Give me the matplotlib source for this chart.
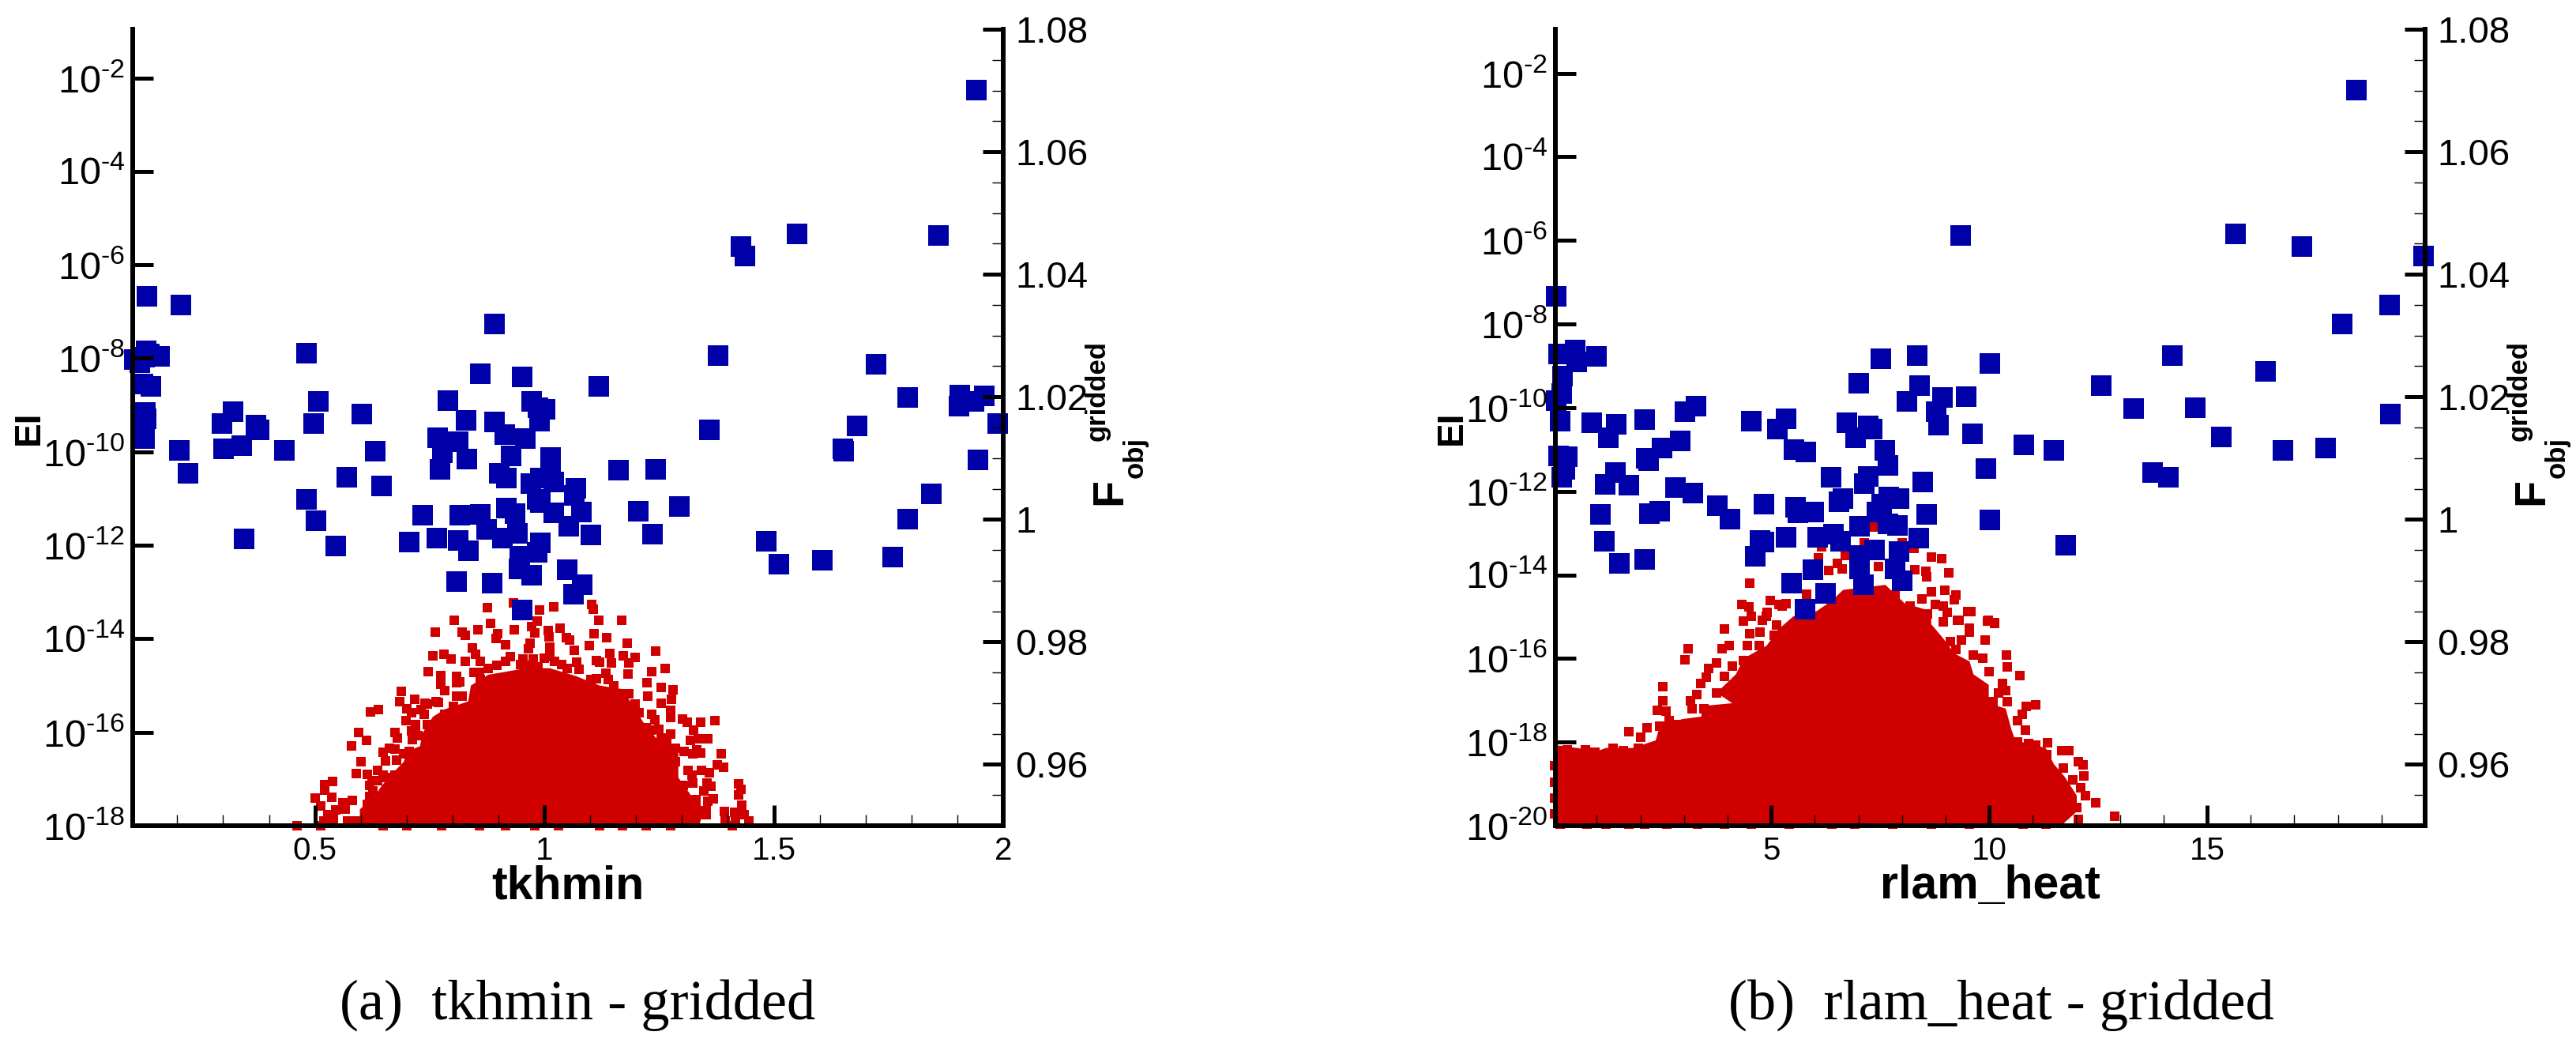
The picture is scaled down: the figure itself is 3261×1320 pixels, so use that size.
import matplotlib
matplotlib.use("Agg")
import matplotlib.pyplot as plt
import numpy as np

plt.rcParams['font.family'] = ['Liberation Sans', 'DejaVu Sans']
plt.rcParams['mathtext.fontset'] = 'custom'
plt.rcParams['mathtext.rm'] = 'Liberation Sans'
plt.rcParams['mathtext.it'] = 'Liberation Sans'
plt.rcParams['mathtext.bf'] = 'Liberation Sans:bold'

BLUE = '#0000A8'
RED = '#D00000'

# ---------- panel (a): tkhmin. Values are (x, log10 EI)
a_blue_x = [.134,.208,.891,1.941,1.429,1.437,1.551,1.859,1.723,1.791,1.905,1.959,1.904,1.936,1.988,1.682,1.651,1.653,1.945,1.843,1.792,1.511,1.606,1.759,
 .133,.161,.139,.106,.129,.119,.142,.126,.130,.132,.129,.129,.321,.298,.371,.379,.301,.340,.204,.223,.434,.498,.508,.481,.603,.632,.570,.646,.481,.503,.345,.545,.705,.734,.765,.813,.835,.815,.861,.875,.918,.937,.908,.808,.887,.768,.813,.777,.773,.832,.789,.861,.830,
 .951,.973,1.002,.986,.990,1.118,1.379,1.360,.891,.913,.958,.927,.901,.918,1.014,1.013,.992,.971,1.021,1.068,1.162,1.242,.985,.992,1.066,.942,1.020,1.080,1.054,1.102,1.204,1.295,1.236,.992,.947,.985,.944,.973,1.049,1.083,1.064,.952,1.484]
a_blue_log = [-6.67,-6.86,-7.26,-2.256,-5.61,-5.82,-5.34,-5.38,-8.12,-8.84,-8.78,-8.81,-9.03,-8.93,-9.40,-9.44,-9.94,-9.98,-10.18,-10.90,-11.44,-12.41,-12.32,-12.26,
 -7.835,-7.954,-7.903,-8.02,-7.976,-8.095,-8.597,-8.546,-9.155,-9.29,-9.713,-9.47,-9.138,-9.392,-9.426,-9.527,-9.928,-9.866,-9.962,-10.458,-9.967,-9.392,-8.918,-7.897,-9.189,-9.984,-10.542,-10.729,-11.016,-11.473,-11.862,-12.015,-11.930,-11.355,-11.845,-11.896,-12.116,-11.355,-11.338,-11.659,-11.202,-11.321,-11.845,-12.776,-12.81,-9.696,-9.781,-10.018,-10.373,-10.153,-8.912,-8.326,-9.324,
 -8.394,-8.918,-9.087,-9.054,-9.341,-8.597,-7.937,-9.527,-9.358,-9.629,-9.713,-10.086,-10.458,-10.56,-10.119,-10.306,-10.56,-10.678,-10.644,-10.779,-10.390,-10.373,-11.016,-11.084,-10.937,-11.744,-11.304,-11.287,-11.592,-11.778,-11.270,-11.169,-11.761,-11.947,-12.235,-12.150,-12.505,-12.641,-12.522,-12.844,-13.047,-13.385,-11.913]

a_red_x = [.876,.932,.990,1.021,1.104,1.106,.803,.883,.985,1.119,1.169,.762,.855,.821,.828,.934,1.035,.973,.979,1.008,1.109,1.135,.899,.894,.916,.969,1.048,1.055,1.010,1.181,1.098,.843,.965,1.012,1.065,1.242,.757,.781,.850,1.142,1.172,1.198,.797,.827,.860,.926,.953,.976,1.000,1.114,1.121,1.147,1.184,1.071,1.023,.747,.775,.808,.816,.860,1.234,1.263,1.182,1.134,.774,1.223,1.254,1.281,.689,.717,.684,1.225,1.277,.740,.770,.700,.639,.621,.710,1.276,1.234,1.254,.698,1.276,1.241,1.301,1.312,1.340,1.372,.596,.674,.680,.710,.612,.580,.712,1.249,1.276,1.325,1.318,1.356,1.335,1.386,.674,.648,.654,.678,.600,1.332,1.340,1.377,1.391,1.314,1.342,1.359,1.322,.590,.614,.637,.648,.538,.522,.522,1.354,1.363,1.423,1.428,1.423,.620,.627,.536,1.347,1.369,.620,1.330,.582,.561,1.430,.512,.566,.545,.614,1.392,1.414,1.353,1.435,.529,1.353,.541,.571,1.394,.519,.592,1.416,1.445,1.324,
 .513,.649,.700,.776,.859,.916,.980,1.031,1.120,1.171,1.222,1.276,1.410,.461,.501,
 .878,.859,.846,.808,.783,.808,.821,.764,.745,.732,.738,.745,.783,.783,.802,.719,.719,.725,.706,.662,.694,.655,.636,.624,.674,
 1.139,1.152,1.165,1.184,1.197,1.206,1.222,1.232,1.254,1.267,1.286,1.305,1.324,1.286,1.302,1.324,1.305,1.330,1.356,
 .916,.897,.948,.967,.986,1.012,1.037,1.050,1.076,1.101,1.114]
a_red_log = [-13.33,-13.24,-13.38,-13.31,-13.27,-13.37,-13.60,-13.67,-13.62,-13.60,-13.60,-13.86,-13.80,-13.85,-13.92,-13.80,-13.77,-13.74,-13.88,-13.83,-13.89,-13.98,-13.89,-13.99,-14.13,-14.10,-13.98,-14.02,-13.96,-14.09,-14.15,-14.19,-14.21,-14.18,-14.24,-14.26,-14.37,-14.33,-14.33,-14.32,-14.37,-14.40,-14.44,-14.49,-14.48,-14.38,-14.43,-14.43,-14.41,-14.46,-14.50,-14.51,-14.52,-14.50,-14.49,-14.70,-14.78,-14.81,-14.92,-14.88,-14.70,-14.64,-14.76,-14.74,-14.98,-14.94,-15.05,-15.10,-15.12,-15.29,-15.35,-15.23,-15.29,-15.38,-15.36,-15.49,-15.51,-15.57,-15.58,-15.54,-15.62,-15.38,-15.76,-15.69,-15.74,-15.71,-15.79,-15.78,-15.76,-16.01,-16.01,-16.13,-15.97,-16.17,-16.29,-16.15,-15.94,-16.04,-15.96,-16.18,-16.14,-16.14,-16.46,-16.36,-16.43,-16.62,-16.60,-16.63,-16.38,-16.45,-16.69,-16.75,-16.82,-16.82,-16.87,-16.92,-16.89,-16.90,-16.82,-16.92,-17.06,-17.12,-17.24,-17.09,-17.16,-17.11,-17.23,-17.34,-17.14,-17.26,-17.39,-17.25,-17.43,-17.38,-17.44,-17.46,-17.51,-17.56,-17.58,-17.65,-17.66,-17.55,-17.70,-17.72,-17.68,-17.76,-17.76,-17.76,-17.85,-17.90,-17.90,-17.90,-17.90,-17.90,-17.90,-17.90,
 -18,-18,-18,-18,-18,-18,-18,-18,-18,-18,-18,-18,-18,-18,-17.41,
 -14.63,-14.72,-14.72,-14.94,-15.11,-15.22,-15.22,-15.34,-15.39,-15.51,-15.62,-15.84,-15.79,-15.62,-15.45,-15.84,-16.01,-16.07,-16.41,-16.35,-16.46,-16.97,-17.03,-17.03,-16.92,
 -14.88,-15.0,-15.17,-15.17,-15.39,-15.59,-15.90,-15.96,-16.13,-16.24,-16.35,-16.41,-16.46,-16.63,-17.14,-17.08,-17.37,-17.54,-17.48,
 -14.49,-14.57,-14.55,-14.57,-14.60,-14.38,-14.55,-14.63,-14.66,-14.88,-14.86]

# outline of the solid red mass, where single marks cannot be told apart
a_core_x = [.598,.598,.630,.646,.671,.694,.700,.729,.735,.757,.783,.834,.840,.878,.961,1.012,1.069,1.120,1.171,1.197,1.216,1.244,1.292,1.292,1.321,1.349,1.337]
a_core_log = [-18.0,-17.65,-17.37,-17.14,-16.86,-16.63,-16.41,-16.30,-16.01,-15.67,-15.51,-15.34,-15.0,-14.77,-14.63,-14.63,-14.80,-15.0,-15.08,-15.50,-15.79,-16.13,-16.41,-16.97,-17.37,-17.65,-18.0]

# ---------- panel (b): rlam_heat
b_blue_x = [.06,18.43,15.66,17.18,19.96,19.18,18.10,9.34,14.20,16.34,14.73,19.20,15.32,16.73,17.71,13.74,14.12,
 10.02,9.48,9.61,10.80,11.49,9.93,10.01,11.76,12.57,13.32,
 .51,.99,.54,.13,.21,.19,.07,.16,.13,.32,.27,.19,.89,1.44,1.27,2.09,3.03,3.27,2.92,2.49,2.14,2.18,1.42,1.20,1.73,2.81,3.21,3.77,4.05,1.09,2.20,2.45,1.18,1.51,2.09,4.55,5.35,5.15,5.53,5.80,4.84,5.55,5.97,5.62,6.38,6.65,6.56,6.73,7.23,7.32,6.94,7.60,7.67,7.22,7.14,7.52,8.35,7.00,8.41,8.12,8.92,8.79,8.83,8.48,7.70,7.94,7.54,7.43,8.57,7.02,7.67,7.89,8.39,4.75,4.83,4.64,5.35,6.06,6.42,6.60,7.37,7.94,7.03,7.03,7.85,5.95,5.46,7.11,8.00,6.24,5.77]
b_blue_log = [-7.33,-2.40,-5.85,-6.15,-6.38,-7.54,-7.99,-5.89,-8.75,-9.14,-10.0,-10.15,-10.71,-11.02,-10.97,-11.56,-11.66,
 -8.95,-9.73,-10.63,-10.90,-11.03,-11.46,-12.69,-13.30,-9.48,-10.03,
 -8.63,-8.78,-8.91,-8.71,-9.25,-9.66,-9.84,-10.32,-11.15,-11.18,-11.48,-11.67,-10.37,-10.39,-10.73,-10.29,-10.10,-9.97,-10.80,-10.97,-11.22,-11.26,-11.56,-11.84,-11.86,-11.92,-12.05,-12.35,-12.67,-12.56,-12.54,-12.47,-13.19,-13.73,-13.64,-10.33,-10.26,-10.52,-11.00,-11.07,-12.30,-12.39,-12.49,-12.51,-11.67,-12.18,-12.26,-10.37,-10.43,-10.52,-10.73,-11.03,-11.39,-11.64,-11.81,-8.84,-8.76,-9.42,-9.48,-9.86,-9.76,-10.09,-10.41,-11.77,-12.13,-12.18,-12.30,-12.49,-12.56,-12.83,-12.79,-12.81,-13.13,-13.17,-13.22,-13.56,-13.11,-13.11,-13.03,-13.20,-13.41,-13.45,-13.54,-13.85,-13.85,-13.87,-14.19,-14.23,-14.15,-14.45,-14.83]

b_red_x = [7.34,7.13,8.00,6.16,8.28,8.68,8.91,6.09,6.70,6.52,7.46,6.62,6.32,8.30,8.54,9.08,8.57,4.50,8.67,8.99,9.23,7.85,9.20,5.82,4.98,4.33,4.49,5.34,5.25,4.88,4.55,4.36,9.58,9.98,10.13,9.55,9.31,8.95,9.04,8.59,8.95,8.19,6.35,
 5.18,4.90,4.79,5.13,3.93,4.50,4.74,5.07,4.04,3.87,4.46,4.72,3.09,3.03,3.75,3.56,4.11,4.37,3.51,3.38,3.93,3.30,2.52,3.75,2.52,3.14,3.18,2.39,2.59,3.45,2.66,2.44,2.88,3.18,2.15,1.73,2.00,2.52,3.27,2.92,1.38,.74,.96,.33,1.60,1.30,1.95,.03,.03,.03,.03,
 8.45,8.76,9.50,9.27,9.96,10.12,9.55,9.90,9.37,9.11,9.24,9.64,9.86,10.40,10.41,9.99,10.70,10.30,10.21,10.38,10.41,10.85,11.07,10.08,10.75,10.65,10.84,11.34,10.91,10.65,11.06,11.66,11.83,12.05,12.16,11.32,11.70,12.18,11.92,12.10,12.20,12.44,12.01,12.88,12.05,11.83,11.57,
 .15,.77,1.21,1.73,2.09,2.61,3.31,3.93,4.54,5.42,6.39,6.91,7.79,8.67,9.55,10.78,11.30]
b_red_log = [-12.85,-13.23,-13.23,-13.32,-13.36,-13.58,-13.61,-13.60,-13.54,-13.73,-13.80,-13.86,-13.90,-13.87,-13.91,-13.95,-14.05,-14.20,-14.40,-14.36,-14.48,-14.49,-14.60,-14.47,-14.62,-14.71,-14.77,-14.69,-14.74,-14.99,-14.99,-15.10,-14.88,-15.09,-15.15,-15.28,-15.09,-15.12,-14.90,-14.93,-14.74,-14.74,-14.49,
 -14.71,-14.90,-15.08,-15.20,-15.30,-15.40,-15.37,-15.44,-15.69,-15.77,-15.70,-15.69,-15.76,-16.03,-16.11,-16.24,-16.19,-16.05,-16.44,-16.60,-16.43,-16.87,-16.68,-16.82,-17.02,-17.01,-17.20,-17.24,-17.26,-17.21,-17.48,-17.62,-17.58,-17.58,-17.65,-17.76,-17.89,-17.96,-17.80,-17.89,-18.14,-18.18,-18.24,-18.18,-18.21,-18.27,-18.14,-18.57,-18.96,-19.34,-19.72,
 -14.58,-14.71,-14.88,-15.09,-15.10,-15.16,-15.37,-15.55,-15.56,-15.59,-15.78,-15.91,-16.00,-15.91,-16.20,-16.32,-16.41,-16.60,-16.82,-16.76,-17.04,-17.14,-17.11,-17.04,-17.34,-17.48,-17.72,-18.02,-18.04,-17.99,-18.07,-18.21,-18.21,-18.46,-18.55,-18.30,-18.62,-18.80,-18.90,-19.09,-19.29,-19.46,-19.56,-19.78,-19.85,-19.53,-19.41,
 -19.97,-19.97,-19.97,-19.97,-19.97,-19.97,-19.97,-19.97,-19.97,-19.97,-19.97,-19.97,-19.97,-19.97,-19.97,-19.97,-19.97]

b_core_x = [.03,.03,.11,1.03,1.21,1.82,2.35,2.44,2.96,3.40,3.40,4.11,3.75,4.19,4.37,4.90,5.16,5.51,6.04,6.39,6.65,7.62,8.06,8.67,8.67,8.93,9.20,9.55,9.64,9.99,9.99,10.38,10.51,10.60,11.30,11.48,11.74,12.01,12.01,11.65]
b_core_log = [-20,-18.40,-18.08,-18.21,-18.14,-18.14,-17.96,-17.64,-17.45,-17.39,-17.14,-17.07,-16.82,-16.38,-16.0,-15.69,-15.31,-14.99,-14.87,-14.62,-14.36,-14.24,-14.68,-14.87,-15.18,-15.50,-15.88,-16.07,-16.38,-16.63,-17.07,-17.20,-17.70,-17.96,-18.14,-18.52,-18.84,-19.28,-19.66,-20]

a_xticks = [0.5, 1, 1.5, 2]
a_xtick_labels = ['0.5', '1', '1.5', '2']
a_xminor = np.arange(2, 20) / 10
b_xticks = [5, 10, 15]
b_xtick_labels = ['5', '10', '15']
b_xminor = np.arange(1, 20)
right_ticks = [0.96, 0.98, 1.0, 1.02, 1.04, 1.06, 1.08]
right_labels = ['0.96', '0.98', '1', '1.02', '1.04', '1.06', '1.08']
right_minor = np.arange(191, 216) / 200

W, H = 3262, 1320
fig = plt.figure(figsize=(W / 100, H / 100), dpi=100, facecolor='white')


def fx(p):
    return p / W


def fy(p):
    return 1 - p / H


def panel(left, right, xlim, xticks, xlabels, xminor, ymin, ytop, core_x, core_log,
          red_x, red_log, blue_x, blue_log, xlabel, caption, cap_x, ei_x):
    top, bottom = 37, 1045
    ax = fig.add_axes([fx(left), fy(bottom), fx(right - left), (bottom - top) / H])
    ax.set_yscale('log')
    ax.set_xlim(*xlim)
    ax.set_ylim(10.0 ** ymin, 10.0 ** ytop)
    ax.set_axisbelow(False)
    ax.fill(core_x, 10.0 ** np.array(core_log), color=RED, lw=0, zorder=1)
    ax.plot(red_x, 10.0 ** np.array(red_log), ls='none', marker='s', ms=8.2, mew=0,
            color=RED, clip_on=False, zorder=1.5)
    ax.plot(blue_x, 10.0 ** np.array(blue_log), ls='none', marker='s', ms=19.4, mew=0,
            color=BLUE, clip_on=False, zorder=2)
    for s in ('top', 'right'):
        ax.spines[s].set_visible(False)
    for s in ('left', 'bottom'):
        ax.spines[s].set_linewidth(4.3)
    decades = list(range(int(ymin), -1, 2))
    ax.set_yticks([10.0 ** d for d in decades])
    ax.set_yticklabels(['$\\mathregular{10^{\u2010%d}}$' % -d for d in decades])
    ax.minorticks_off()
    ax.set_xticks(xticks)
    ax.set_xticklabels(xlabels)
    ax.set_xticks(xminor, minor=True)
    ax.tick_params(axis='y', which='major', direction='in', length=18.7, width=3.6,
                   labelsize=35, pad=7)
    ax.tick_params(axis='x', which='major', direction='in', length=18.7, width=3.6,
                   labelsize=29, pad=9)
    ax.tick_params(axis='x', which='minor', direction='in', length=10, width=1)
    ax.set_xlabel(xlabel, fontweight='bold', fontsize=42.5)
    ax.xaxis.set_label_coords((left + right) / 2 / W, fy(1094), transform=fig.transFigure)
    ax.set_ylabel('EI', fontweight='bold', fontsize=33)
    ax.yaxis.set_label_coords(fx(ei_x), fy(541), transform=fig.transFigure)

    ax2 = ax.twinx()
    ax2.set_ylim(0.95, 1.08)
    for s in ('top', 'left', 'bottom'):
        ax2.spines[s].set_visible(False)
    ax2.spines['right'].set_linewidth(4.3)
    ax2.set_yticks(right_ticks)
    ax2.set_yticklabels(right_labels)
    ax2.set_yticks(right_minor, minor=True)
    ax2.tick_params(axis='y', which='major', direction='in', length=18.7, width=3.6,
                    labelsize=34, pad=11)
    ax2.tick_params(axis='y', which='minor', direction='in', length=10, width=1)

    off = right - 1270
    fig.text(fx(1405 + off), fy(622), 'F', rotation=90, ha='center', va='center',
             fontweight='bold', fontsize=40)
    fig.text(fx(1437 + off), fy(579), 'obj', rotation=90, ha='center', va='center',
             fontweight='bold', fontsize=25)
    fig.text(fx(1389 + off), fy(495), 'gridded', rotation=90, ha='center', va='center',
             fontweight='bold', fontsize=25)
    fig.text(fx(cap_x), fy(1290), caption, ha='center', va='baseline', fontsize=52,
             family=['Liberation Serif', 'DejaVu Serif'])


panel(168, 1270, (0.103, 2.0), a_xticks, a_xtick_labels, a_xminor,
      -18, -0.96, a_core_x, a_core_log, a_red_x, a_red_log, a_blue_x, a_blue_log,
      'tkhmin', '(a)  tkhmin - gridded', 731, 59)
panel(1969, 3070, (0.05, 20.0), b_xticks, b_xtick_labels, b_xminor,
      -20, -0.95, b_core_x, b_core_log, b_red_x, b_red_log, b_blue_x, b_blue_log,
      'rlam_heat', '(b)  rlam_heat - gridded', 2533, 1860)

fig.savefig('out.png', dpi=100, facecolor='white')
